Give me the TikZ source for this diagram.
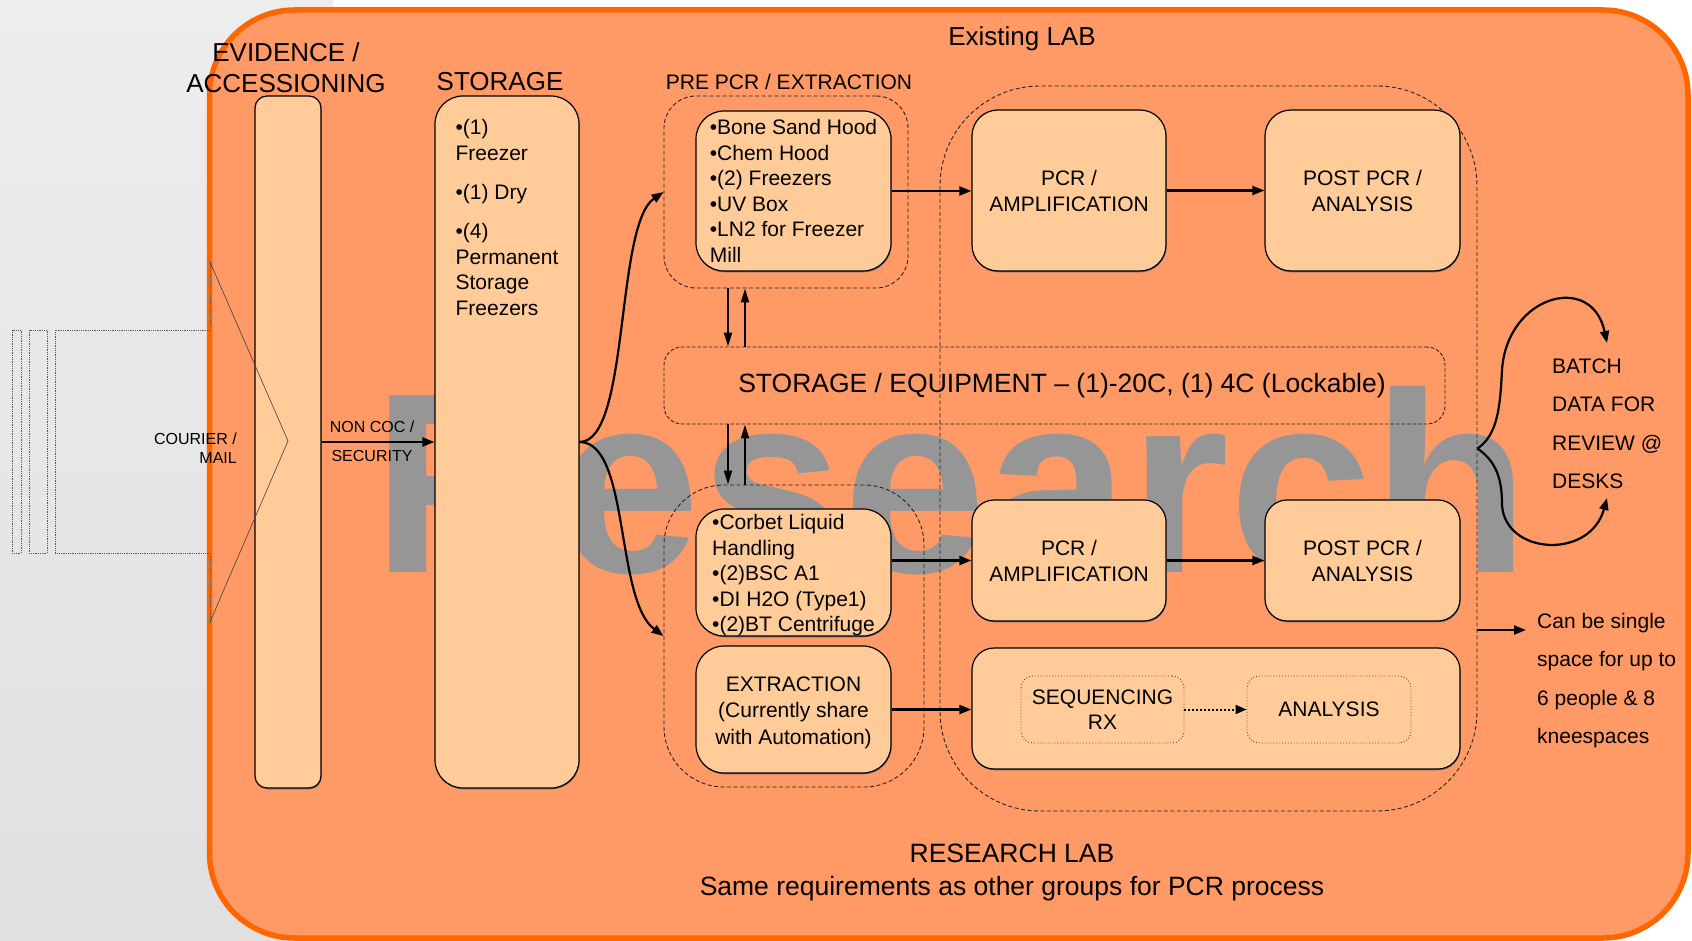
\documentclass[tikz,border=0pt]{standalone}
\usepackage{fontspec}
\setmainfont{Liberation Sans}
\usetikzlibrary{arrows.meta,shadows}
\definecolor{labfill}{HTML}{FF9966}
\definecolor{labedge}{HTML}{FF6600}
\definecolor{boxfill}{HTML}{FFCC99}
\definecolor{paneltop}{HTML}{EDEDED}
\definecolor{panelbot}{HTML}{E0E0E0}
\definecolor{watermark}{HTML}{969696}
\newcommand{\fsz}[2]{\fontsize{#1}{#2}\selectfont}

\begin{document}
\begin{tikzpicture}[x=1pt,y=-1pt,
  room/.style={draw=black, line width=1.2pt, fill=boxfill, rounded corners=#1, inner sep=0pt,
    general shadow={fill=black!55, shadow xshift=0.6pt, shadow yshift=-1.3pt}},
  room/.default=25pt,
  zone/.style={draw=black!85, line width=0.9pt, dash pattern=on 4pt off 2.5pt, rounded corners=#1, inner sep=0pt},
  slot/.style={draw=black!70, line width=0.9pt, dotted, rounded corners=12pt, inner sep=0pt},
  flow/.style={line width=2.2pt, -{Triangle[length=12pt,width=9pt]}},
  lift/.style={line width=2pt, -{Triangle[length=14pt,width=8pt]}},
  body/.style={font=\fsz{21}{25.5}},
  label/.style={inner sep=0pt},
  head/.style={font=\fsz{26.5}{31}, inner sep=0pt},
  small/.style={font=\fsz{16}{19}, inner sep=0pt}
]
\useasboundingbox (0,0) rectangle (1692,941);

% page, side panel and the lab outline
\fill[white] (0,0) rectangle (1692,941);
\shade[top color=paneltop, bottom color=panelbot] (0,0) rectangle (333,941);
\draw[fill=labfill, draw=labedge, line width=5.5pt, rounded corners=85pt] (209.5,10) rectangle (1688,938);

% background lettering
\node[anchor=base west, inner sep=0pt, text=watermark, font=\fsz{257}{257}\bfseries] (wm) at (372,572) {Research};

% dashed working zones
\node[zone=100pt, minimum width=537pt, minimum height=725pt] (bigzone) at (1208.5,448.5) {};
\node[zone=32pt, minimum width=244pt, minimum height=192pt] (prezone) at (786,192) {};
\node[zone=60pt, minimum width=260pt, minimum height=302pt] (lowzone) at (794,636) {};
\node[zone=18pt, minimum width=781pt, minimum height=77pt, dash pattern=on 3.5pt off 2pt] (storeq) at (1054.5,385.5) {};

% rooms
\node[room=12pt, minimum width=66pt, minimum height=692pt] (evid) at (288,442) {};
\node[room=28pt, minimum width=144pt, minimum height=692pt] (store) at (507,442) {};
\node[room=28pt, minimum width=195pt, minimum height=160pt, body, align=left] (prebox) at (793.5,191)
  {•Bone Sand Hood\\•Chem Hood\\•(2) Freezers\\•UV Box\\•LN2 for Freezer\\Mill};
\node[room=28pt, minimum width=195pt, minimum height=127pt] (corbet) at (793.5,572.5) {};
\node[label, body, align=left] (corbettext) at (793.5,575.5)
  {•Corbet Liquid\\Handling\\•(2)BSC A1\\•DI H2O (Type1)\\•(2)BT Centrifuge};
\node[room=28pt, minimum width=195pt, minimum height=127pt] (extr) at (793.5,709.5) {};
\node[label, align=center, font=\fsz{21}{26.5}] (extrtext) at (793.5,712.5)
  {EXTRACTION\\(Currently share\\with Automation)};
\node[room=26pt, minimum width=194pt, minimum height=161pt, body, align=center, font=\fsz{21}{26}] (pcrA) at (1069,190.5)
  {PCR /\\AMPLIFICATION};
\node[room=26pt, minimum width=195pt, minimum height=161pt, body, align=center, font=\fsz{21}{26}] (postA) at (1362.5,190.5)
  {POST PCR /\\ANALYSIS};
\node[room=22pt, minimum width=194pt, minimum height=121pt, body, align=center, font=\fsz{21}{26}] (pcrB) at (1069,560.5)
  {PCR /\\AMPLIFICATION};
\node[room=22pt, minimum width=195pt, minimum height=121pt, body, align=center, font=\fsz{21}{26}] (postB) at (1362.5,560.5)
  {POST PCR /\\ANALYSIS};
\node[room=22pt, minimum width=488pt, minimum height=121pt] (seq) at (1216,708.5) {};
\node[slot, minimum width=163pt, minimum height=67pt, body, align=center, font=\fsz{21}{25}] (seqrx) at (1102.5,709.5)
  {SEQUENCING\\RX};
\node[slot, minimum width=164pt, minimum height=67pt, body] (anal) at (1329,709.5) {ANALYSIS};

% storage contents
\node[anchor=north, inner sep=0pt, font=\fsz{21}{25.6}, align=left] (storetext) at (507,119.5)
  {•(1)\\Freezer\\[13.4pt]•(1) Dry\\[13.4pt]•(4)\\Permanent\\Storage\\Freezers};

% headings and notes
\node[head, align=center, font=\fsz{26}{31}] (evidlbl) at (286,67.5) {EVIDENCE /\\ACCESSIONING};
\node[head, font=\fsz{26}{31}] (storelbl) at (500,82) {STORAGE};
\node[label, font=\fsz{21}{25}] (prelbl) at (789,82) {PRE PCR / EXTRACTION};
\node[head, font=\fsz{26}{31}] (existing) at (1022,39) {Existing LAB};
\node[head] (storeqlbl) at (1062,386) {STORAGE / EQUIPMENT – (1)-20C, (1) 4C (Lockable)};
\node[small, anchor=east, align=right] (courier) at (237,448.5) {COURIER /\\MAIL};
\node[small, align=center, font=\fsz{16}{29}] (noncoc) at (372,441.5) {NON COC /\\SECURITY};
\node[label, anchor=west, align=left, font=\fsz{21}{38.5}] (batch) at (1552,424)
  {BATCH\\DATA FOR\\REVIEW @\\DESKS};
\node[label, anchor=west, align=left, font=\fsz{21}{38.5}] (single) at (1537,680.5)
  {Can be single\\space for up to\\6 people \& 8\\kneespaces};
\node[head, align=center, font=\fsz{26.5}{33}] (research) at (1012,872.5)
  {RESEARCH LAB\\Same requirements as other groups for PCR process};

% incoming delivery outline
\draw[black!65, line width=0.8pt, densely dotted] (12,330) rectangle (21,553);
\draw[black!65, line width=0.8pt, densely dotted] (29,330) rectangle (47,553);
\draw[black!65, line width=0.8pt, densely dotted] (210,262) -- (210,330) -- (55,330) -- (55,553) -- (210,553) -- (210,622);
\draw[black!75, line width=0.6pt] (210,262) -- (288,441) -- (210,622);

% flows
\draw[flow] (evid.east) -- (store.west);
\draw[flow] (store.east) .. controls (630,442) and (615,225) .. (prezone.west);
\draw[flow] (store.east) .. controls (630,442) and (615,600) .. (lowzone.west);
\draw[flow] (prebox.east) -- (prebox.east -| pcrA.west);
\draw[flow] (pcrA.east) -- (postA.west);
\draw[flow] (corbet.east |- pcrB.west) -- (pcrB.west);
\draw[flow] (pcrB.east) -- (postB.west);
\draw[flow] (extr.east) -- (extr.east -| seq.west);
\draw[line width=2pt, dotted, -{Triangle[length=11pt,width=9pt]}] (seqrx.east) -- (anal.west);

\coordinate (xdown) at (728,0);
\coordinate (xup) at (745,0);
\draw[lift] (prezone.south -| xdown) -- (storeq.north -| xdown);
\draw[lift] (storeq.north -| xup) -- (prezone.south -| xup);
\draw[lift] (storeq.south -| xdown) -- (lowzone.north -| xdown);
\draw[lift] (lowzone.north -| xup) -- (storeq.south -| xup);

\draw[flow] (bigzone.east) .. controls (1497,435) and (1500,410) .. (1502,370)
  .. controls (1507,295) and (1592,272) .. (1607,343);
\draw[flow] (bigzone.east) .. controls (1497,462) and (1502,480) .. (1502,505)
  .. controls (1505,555) and (1590,560) .. (1607,498);
\coordinate (singletip) at (1526,630);
\draw[flow] (singletip -| bigzone.east) -- (singletip);
\end{tikzpicture}
\end{document}
